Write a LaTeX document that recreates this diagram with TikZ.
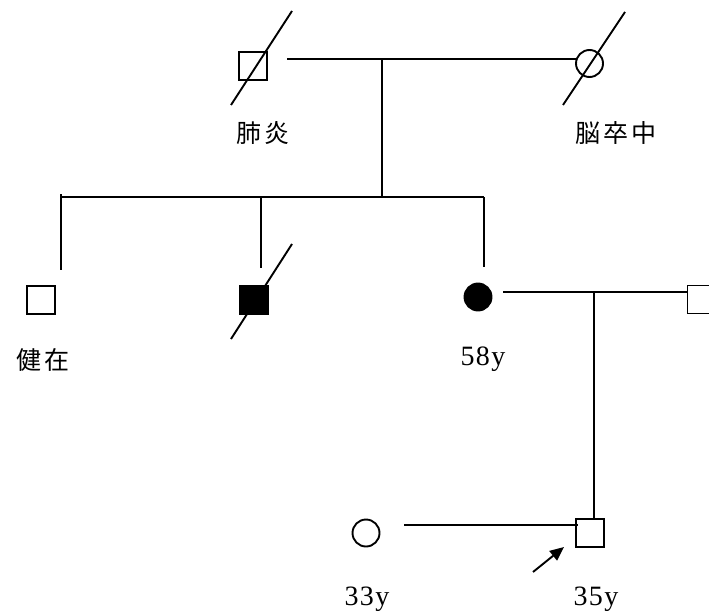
\documentclass[tikz,border=0pt]{standalone}
\usepackage{fontspec}
\setmainfont{Liberation Serif}
\newfontfamily\cjk[LetterSpace=12]{Noto Sans CJK JP}
\newfontfamily\lat[LetterSpace=5]{Liberation Serif}
\usetikzlibrary{arrows.meta}
\begin{document}
\begin{tikzpicture}[x=1pt,y=-1pt,line width=1.9pt,
  sq/.style={draw,rectangle,minimum size=28pt,inner sep=0pt,line width=1.9pt},
  fsq/.style={sq,fill=black},
  ci/.style={draw,circle,minimum size=27pt,inner sep=0pt,line width=1.9pt},
  fci/.style={ci,fill=black},
  jt/.style={font=\cjk\fontsize{25}{25}\selectfont,inner sep=0pt},
  nt/.style={font=\lat\fontsize{28}{28}\selectfont,inner sep=0pt},
  ln/.style={line width=1.9pt}]
\useasboundingbox (0,0) rectangle (709,615);
% generation I
\node[sq] (gf) at (253,66) {};
\node[ci] (gm) at (589.5,63.5) {};
\coordinate (gfa) at (231,105); \coordinate (gfb) at (292,11);
\draw[ln] (gfa) -- (gfb);
\coordinate (gma) at (563,105); \coordinate (gmb) at (625,12);
\draw[ln] (gma) -- (gmb);
\coordinate (m1l) at (287,59); \coordinate (m1r) at (576,59);
\draw[ln] (m1l) -- (m1r);
\coordinate (m1c) at (382,59); \coordinate (s1c) at (382,197);
\draw[ln] (m1c) -- (s1c);
\node[jt] (l1) at (263,133) {肺炎};
\node[jt] (l2) at (616,133) {脳卒中};
% sibship
\coordinate (s1l) at (61,197); \coordinate (s1r) at (484,197);
\draw[ln] (s1l) -- (s1r);
\coordinate (c1t) at (61,194); \coordinate (c1b) at (61,270);
\coordinate (c2t) at (261,197); \coordinate (c2b) at (261,268);
\coordinate (c3t) at (484,197); \coordinate (c3b) at (484,267);
\draw[ln] (c1t) -- (c1b);
\draw[ln] (c2t) -- (c2b);
\draw[ln] (c3t) -- (c3b);
% generation II
\node[sq] (b1) at (41,300) {};
\node[fsq] (b2) at (254,300) {};
\coordinate (b2a) at (231,339); \coordinate (b2b) at (292,244);
\draw[ln] (b2a) -- (b2b);
\node[fci] (sis) at (478,297) {};
\node[sq] (hus) at (701.5,299.5) {};
\node[jt] (l3) at (43,360) {健在};
\node[nt] (l4) at (483,359) {58y};
\coordinate (m2l) at (503,292);
\draw[ln] (m2l) -- (hus.west |- m2l);
\coordinate (m2c) at (594,292);
% generation III
\node[sq] (pro) at (590,533) {};
\node[ci] (wif) at (366,533) {};
\draw[ln] (m2c) -- (m2c |- pro.north);
\coordinate (m3l) at (404,525);
\draw[ln] (m3l) -- ([xshift=3pt]pro.west |- m3l);
\coordinate (ara) at (533,572); \coordinate (arb) at (564,547);
\draw[ln,-{Triangle[length=14pt,width=12pt]}] (ara) -- (arb);
\node[nt] (l5) at (367,599) {33y};
\node[nt] (l6) at (596,599) {35y};
\end{tikzpicture}
\end{document}
